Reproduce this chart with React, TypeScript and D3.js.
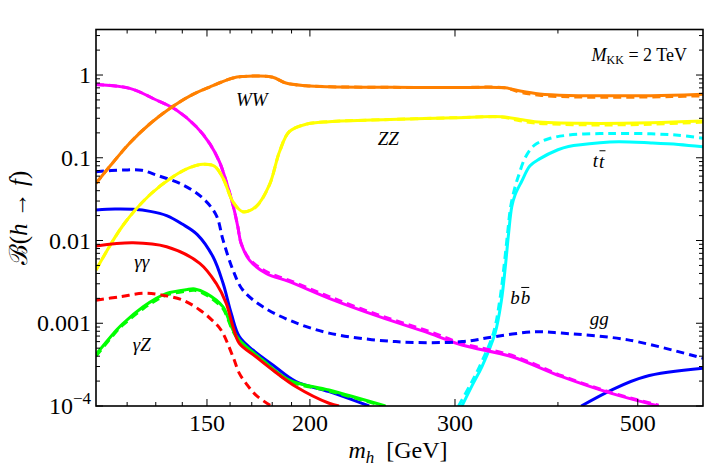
import React from "react";
import * as d3 from "d3";

const W = 708;
const H = 470;
const M = { top: 29.5, right: 5, bottom: 64, left: 96 };

// axis ticks
const xMajor = [150, 200, 300, 500];
const xMinor = [120, 130, 140, 160, 170, 180, 190, 400];
const yMajor = [1e-4, 1e-3, 0.01, 0.1, 1];
const yMajorLabels = ["", "0.001", "0.01", "0.1", "1"];

// WW
const wwMass = [110, 114.4, 120.9, 127.8, 135.2, 142.9, 151.1, 161.3, 166, 172, 180.3, 187, 197.8, 211, 250, 300, 345, 360, 380, 412, 450, 496, 550, 600];
const wwSolid = [0.049, 0.0794, 0.151, 0.256, 0.394, 0.557, 0.716, 0.92, 0.96, 0.973, 0.94, 0.8, 0.743, 0.722, 0.71, 0.705, 0.7, 0.64, 0.59, 0.565, 0.56, 0.56, 0.57, 0.585];
const wwDashed = [0.049, 0.0794, 0.151, 0.256, 0.394, 0.557, 0.716, 0.92, 0.96, 0.973, 0.94, 0.8, 0.743, 0.722, 0.71, 0.705, 0.7, 0.62, 0.57, 0.545, 0.54, 0.54, 0.55, 0.56];

// ZZ
const zzMass = [110, 118.7, 127.8, 136.4, 142.9, 148.3, 153.2, 156.9, 161.3, 165.8, 172, 178.6, 183.7, 188.8, 197.8, 211, 250, 300, 341.6, 360, 375, 431.5, 519, 600];
const zzSolid = [0.0044, 0.0154, 0.0355, 0.059, 0.0759, 0.0834, 0.079, 0.0565, 0.0294, 0.0223, 0.0256, 0.0469, 0.118, 0.207, 0.254, 0.273, 0.29, 0.305, 0.313, 0.29, 0.273, 0.261, 0.265, 0.278];
const zzDashed = [0.0044, 0.0154, 0.0355, 0.059, 0.0759, 0.0834, 0.079, 0.0565, 0.0294, 0.0223, 0.0256, 0.0469, 0.118, 0.207, 0.254, 0.273, 0.29, 0.305, 0.31, 0.28, 0.263, 0.25, 0.254, 0.27];

// b bbar
const bbMass = [110, 120.9, 130.2, 137.7, 145.6, 151.1, 155.3, 158.3, 161.3, 163.5, 165, 168.9, 177, 188.8, 211, 242.8, 278.9, 305.9, 351.6, 404.4, 464.5, 530];
const bbSolid = [0.77, 0.69, 0.499, 0.378, 0.237, 0.149, 0.0896, 0.0514, 0.0269, 0.0147, 0.00925, 0.0058, 0.004, 0.00318, 0.002, 0.0012, 0.00076, 0.000546, 0.000394, 0.000226, 0.000142, 0.0001];
const bbDashed = [0.77, 0.69, 0.499, 0.378, 0.237, 0.149, 0.0896, 0.0514, 0.0269, 0.0147, 0.00925, 0.006, 0.0042, 0.0033, 0.0021, 0.00125, 0.0008, 0.00057, 0.00041, 0.000232, 0.000145, 0.000102];

// gg
const ggDashMass = [110, 118.7, 125, 130.2, 140.3, 148.3, 153.9, 156.9, 161.3, 165.8, 175.2, 188.8, 211, 254.2, 305.9, 335.6, 375, 404, 486.5, 600];
const ggDashed = [0.068, 0.071, 0.0705, 0.0619, 0.0469, 0.0324, 0.0203, 0.0101, 0.0044, 0.00252, 0.00159, 0.00109, 0.00076, 0.0006, 0.0006, 0.00069, 0.00079, 0.00076, 0.00063, 0.000377];
const ggSolidMass = [110, 116, 122, 128, 134, 140, 146, 152.5, 156.9, 160.5, 164.2, 170.5, 180.3, 192.4, 211, 236, 300, 427, 464.5, 510, 600];
const ggSolid = [0.0234, 0.024, 0.0238, 0.0225, 0.02, 0.0158, 0.0118, 0.0064, 0.00304, 0.00132, 0.00069, 0.000475, 0.000313, 0.000197, 0.000149, 0.0001, null, 0.0001, 0.000156, 0.000226, 0.000285];

// gamma gamma
const aaSolidMass = [110, 122, 134, 147, 153.9, 158.3, 161.3, 164.2, 172, 180.3, 192.4, 211, 217];
const aaSolid = [0.0086, 0.0094, 0.0084, 0.0053, 0.00304, 0.00174, 0.00091, 0.00057, 0.000394, 0.000272, 0.000171, 0.000108, 0.0001];
const aaDashMass = [110, 118, 125.5, 132, 140.3, 147, 152, 156, 161.3, 164.2, 167.3, 172, 179.5];
const aaDashed = [0.0019, 0.0021, 0.0023, 0.0022, 0.0019, 0.00145, 0.0011, 0.00083, 0.000394, 0.000248, 0.000188, 0.000135, 0.0001];

// gamma Z
const azMass = [110, 116.5, 118.7, 125.5, 130.2, 134, 141.6, 145, 149.7, 156.9, 158.3, 161.3, 164.2, 175.2, 188.8, 211, 247];
const azSolid = [0.00042, 0.00083, 0.001, 0.00158, 0.002, 0.0023, 0.00255, 0.0026, 0.0023, 0.00158, 0.00132, 0.00083, 0.00063, 0.00036, 0.000206, 0.000156, 0.0001];
const azDashed = [0.0004, 0.0008, 0.00096, 0.0015, 0.0019, 0.0022, 0.00245, 0.0025, 0.0022, 0.0015, 0.00126, 0.0008, 0.00061, 0.00035, 0.0002, 0.000152, 0.000098];

// t tbar
const ttSolidMass = [305.9, 315, 323.5, 335.6, 341.6, 345.3, 348.5, 351.6, 355, 361.5, 370, 380, 400, 412, 450, 474, 519, 560, 600];
const ttSolid = [0.0001, 0.00018, 0.0003, 0.00076, 0.0019, 0.0048, 0.0122, 0.0256, 0.036, 0.052, 0.08, 0.097, 0.125, 0.137, 0.152, 0.156, 0.151, 0.145, 0.136];
const ttDashMass = [303, 313, 321.3, 334, 340, 344, 347.5, 350.5, 355, 358.6, 365, 375, 390, 412, 450, 474, 519, 560, 600];
const ttDashed = [0.0001, 0.00018, 0.0003, 0.00076, 0.0019, 0.0048, 0.0122, 0.0256, 0.045, 0.062, 0.1, 0.143, 0.17, 0.188, 0.196, 0.197, 0.195, 0.187, 0.172];

const series = [
  { x: ggSolidMass, y: ggSolid, color: "#0000ff", dashed: false },
  { x: ttSolidMass, y: ttSolid, color: "#00ffff", dashed: false },
  { x: ttDashMass, y: ttDashed, color: "#00ffff", dashed: true },
  { x: bbMass, y: bbSolid, color: "#ff00ff", dashed: false },
  { x: bbMass, y: bbDashed, color: "#ff00ff", dashed: true },
  { x: ggDashMass, y: ggDashed, color: "#0000ff", dashed: true },
  { x: zzMass, y: zzSolid, color: "#ffff00", dashed: false },
  { x: zzMass, y: zzDashed, color: "#ffff00", dashed: true },
  { x: wwMass, y: wwSolid, color: "#ff8000", dashed: false },
  { x: wwMass, y: wwDashed, color: "#ff8000", dashed: true },
  { x: azMass, y: azSolid, color: "#00ff00", dashed: false },
  { x: azMass, y: azDashed, color: "#00ff00", dashed: true },
  { x: aaSolidMass, y: aaSolid, color: "#ff0000", dashed: false },
  { x: aaDashMass, y: aaDashed, color: "#ff0000", dashed: true },
];

// curve labels: text, mass, branching ratio
const curveLabels = [
  { text: "WW", x: 170, y: 0.5 },
  { text: "ZZ", x: 249, y: 0.169 },
  { text: "gg", x: 449, y: 0.00115 },
  { text: "γγ", x: 125, y: 0.0056 },
  { text: "γZ", x: 125, y: 0.00056 },
];

const serif = "'Liberation Serif', 'Times New Roman', Times, serif";

export default function App() {
  const x = d3.scaleLog([110, 600], [M.left, W - M.right]);
  const y = d3.scaleLog([1e-4, 3.55], [H - M.bottom, M.top]);
  const x0 = M.left, x1 = W - M.right, y0 = M.top, y1 = H - M.bottom;

  const yMinor: number[] = [];
  for (const d of yMajor) {
    for (let k = 2; k <= 9; k++) {
      const v = d * k;
      if (v < 3.55) yMinor.push(v);
    }
  }

  const line = d3
    .line<[number, number | null]>()
    .defined((d) => d[1] != null)
    .x((d) => x(d[0]))
    .y((d) => y(d[1] as number))
    .curve(d3.curveCatmullRom.alpha(0.5));

  const txt = { fontFamily: serif };

  return (
    <div style={{ position: "absolute", left: 0, top: 0 }}>
      <style>{`body{margin:0} svg text{font-family:'Liberation Serif','Times New Roman',serif}`}</style>
      <svg width={W} height={H} style={{ display: "block", background: "#fff" }}>
        <defs>
          <clipPath id="plot">
            <rect x={x0} y={y0} width={x1 - x0} height={y1 - y0} />
          </clipPath>
        </defs>

        <g clipPath="url(#plot)" fill="none" strokeWidth={3} strokeLinejoin="round">
          {series.map((s, i) => (
            <path
              key={i}
              d={line(s.x.map((m, j) => [m, s.y[j]]) as any) || ""}
              stroke={s.color}
              strokeDasharray={s.dashed ? "8,5" : undefined}
            />
          ))}
        </g>

        {/* ticks on all four sides */}
        <g stroke="#000" strokeWidth={1}>
          {xMajor.map((v) => (
            <g key={"xM" + v}>
              <line x1={x(v)} x2={x(v)} y1={y1} y2={y1 - 7} />
              <line x1={x(v)} x2={x(v)} y1={y0} y2={y0 + 7} />
            </g>
          ))}
          {xMinor.map((v) => (
            <g key={"xm" + v}>
              <line x1={x(v)} x2={x(v)} y1={y1} y2={y1 - 4} />
              <line x1={x(v)} x2={x(v)} y1={y0} y2={y0 + 4} />
            </g>
          ))}
          {yMajor.map((v) => (
            <g key={"yM" + v}>
              <line x1={x0} x2={x0 + 7} y1={y(v)} y2={y(v)} />
              <line x1={x1} x2={x1 - 7} y1={y(v)} y2={y(v)} />
            </g>
          ))}
          {yMinor.map((v, i) => (
            <g key={"ym" + i}>
              <line x1={x0} x2={x0 + 4} y1={y(v)} y2={y(v)} />
              <line x1={x1} x2={x1 - 4} y1={y(v)} y2={y(v)} />
            </g>
          ))}
        </g>

        <rect x={x0} y={y0} width={x1 - x0} height={y1 - y0} fill="none" stroke="#000" strokeWidth={1.6} />

        {/* tick labels */}
        <g style={txt} fontSize={24} fill="#000">
          {xMajor.map((v) => (
            <text key={"xl" + v} x={x(v)} y={y1 + 25} textAnchor="middle">
              {v}
            </text>
          ))}
          {yMajor.map((v, i) =>
            i === 0 ? (
              <text key="yl0" x={x0 - 5} y={y(v) + 8} textAnchor="end">
                10<tspan dy={-10} fontSize={17}>−4</tspan>
              </text>
            ) : (
              <text key={"yl" + i} x={x0 - 5} y={y(v) + 8} textAnchor="end">
                {yMajorLabels[i]}
              </text>
            )
          )}
        </g>

        {/* axis titles */}
        <text x={398} y={458} textAnchor="middle" style={txt} fontSize={24}>
          <tspan fontStyle="italic">m</tspan>
          <tspan fontStyle="italic" fontSize={17} dy={5}>h</tspan>
          <tspan dy={-5}>{"\u00a0\u00a0[GeV]"}</tspan>
        </text>
        <text
          transform={`translate(27,218) rotate(-90)`}
          textAnchor="middle"
          style={txt}
          fontSize={25}
        >
          <tspan>ℬ(</tspan>
          <tspan fontStyle="italic">h</tspan>
          <tspan>{" → "}</tspan>
          <tspan fontStyle="italic">f</tspan>
          <tspan>)</tspan>
        </text>

        {/* curve labels */}
        <g style={txt} fontSize={19} fontStyle="italic" textAnchor="middle" dominantBaseline="central">
          {curveLabels.map((l) => (
            <text key={l.text} x={x(l.x)} y={y(l.y)}>
              {l.text}
            </text>
          ))}
          <text x={x(360)} y={y(0.00205)}>
            b<tspan dx={1}>b</tspan>
          </text>
          <line x1={x(360) + 1} x2={x(360) + 9} y1={y(0.00205) - 10} y2={y(0.00205) - 10} stroke="#000" strokeWidth={1} />
          <text x={x(448)} y={y(0.092)}>
            t<tspan dx={1}>t</tspan>
          </text>
          <line x1={x(448) + 1} x2={x(448) + 7} y1={y(0.092) - 10} y2={y(0.092) - 10} stroke="#000" strokeWidth={1} />
        </g>

        <text x={687} y={61} textAnchor="end" style={txt} fontSize={18}>
          <tspan fontStyle="italic">M</tspan>
          <tspan fontSize={12} dy={3}>KK</tspan>
          <tspan dy={-3}>{" = 2 TeV"}</tspan>
        </text>
      </svg>
    </div>
  );
}
